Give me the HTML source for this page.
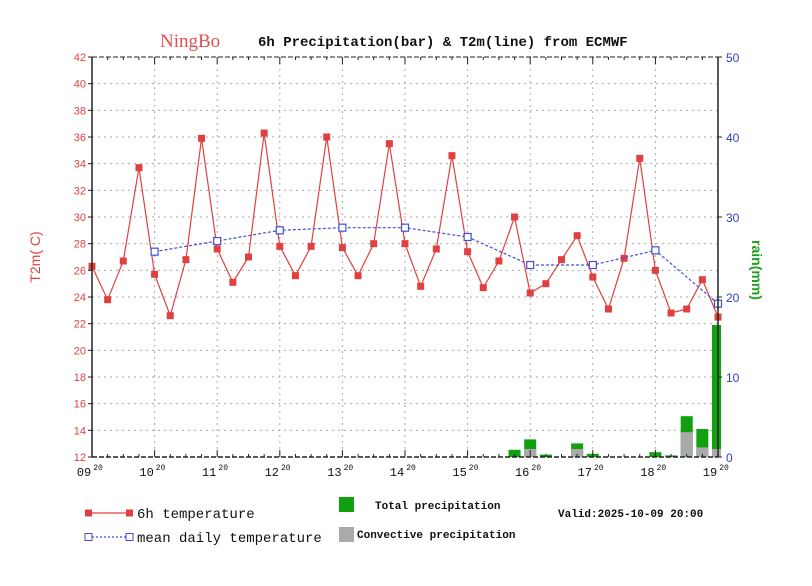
<!DOCTYPE html>
<html><head><meta charset="utf-8"><style>
html,body{margin:0;padding:0;background:#fff;}
svg{display:block;}
</style></head><body>
<svg id="chart" width="812" height="586" xmlns="http://www.w3.org/2000/svg" font-family="Liberation Mono, monospace">
<rect width="812" height="586" fill="#fff"/>
<text x="160" y="47" font-family="Liberation Serif, serif" font-size="19" fill="#e05050">NingBo</text>
<text x="258" y="46" font-size="14" font-weight="bold" fill="#111">6h Precipitation(bar) &amp; T2m(line) from ECMWF</text>
<g id="grid"></g>
<g id="bars"></g>
<g id="lines"></g>
<g id="axes"></g>
<text transform="translate(40,257) rotate(-90)" text-anchor="middle" font-family="Liberation Sans, sans-serif" font-size="14" fill="#e04040">T2m( C)</text>
<text transform="translate(752,270) rotate(90)" text-anchor="middle" font-family="Liberation Sans, sans-serif" font-size="14" font-weight="bold" fill="#20a020">rain(mm)</text>
<g>
<g>
<line x1="88" y1="513" x2="129" y2="513" stroke="#e04040" stroke-width="1.2"/>
<rect x="85" y="509.5" width="7" height="7" fill="#e04040"/><rect x="126" y="509.5" width="7" height="7" fill="#e04040"/>
<text x="137" y="518" font-size="14" fill="#111">6h temperature</text></g>
<g>
<line x1="88" y1="537" x2="129" y2="537" stroke="#4050d0" stroke-width="1.2" stroke-dasharray="2,2"/>
<rect x="85" y="533.5" width="7" height="7" fill="#fff" stroke="#4050d0"/><rect x="126" y="533.5" width="7" height="7" fill="#fff" stroke="#4050d0"/>
<text x="137" y="542" font-size="14" fill="#111">mean daily temperature</text></g>
<g>
<rect x="339" y="497" width="15" height="15" fill="#10a010"/>
<text x="375" y="509" font-size="11" font-weight="bold" fill="#111">Total precipitation</text></g>
<g>
<rect x="339" y="527" width="15" height="15" fill="#aaa"/>
<text x="357" y="538" font-size="11" font-weight="bold" fill="#111">Convective precipitation</text></g>
<text x="558" y="517" font-size="11" font-weight="bold" fill="#111">Valid:2025-10-09 20:00</text>
</g>
</svg>
<script>
const temps=[26.3,23.8,26.7,33.7,25.7,22.6,26.8,35.9,27.6,25.1,27.0,36.3,27.8,25.6,27.8,36.0,27.7,25.6,28.0,35.5,28.0,24.8,27.6,34.6,27.4,24.7,26.7,30.0,24.3,25.0,26.8,28.6,25.5,23.1,26.9,34.4,26.0,22.8,23.1,25.3,22.5];
const meanTemps=[27.4,28.2,29.0,29.2,29.2,28.5,26.4,26.4,27.5,23.5];
const meanIdx=[4,8,12,16,20,24,28,32,36,40];
const precipIdx=[27,28,29,31,32,36,37,38,39,40];
const totalPrecip=[0.9,2.2,0.3,1.7,0.4,0.6,0.2,5.1,3.5,16.5];
const convPrecip=[0,1.0,0,1.0,0,0,0,3.1,1.2,1.0];
const dayLabels=["09","10","11","12","13","14","15","16","17","18","19"];
const leftTicks=[12,14,16,18,20,22,24,26,28,30,32,34,36,38,40,42];
const rightTicks=[0,10,20,30,40,50];

const X0=92,X1=718,Y0=457,Y1=57,N=40;
const xs=k=>X0+(X1-X0)*k/N;
const yT=v=>Y0-(v-12)*(Y0-Y1)/30;
const yR=v=>Y0-v*(Y0-Y1)/50;
const NS="http://www.w3.org/2000/svg";
function mk(tag,attrs,parent,txt){const e=document.createElementNS(NS,tag);for(const k in attrs)e.setAttribute(k,attrs[k]);if(txt!==undefined)e.textContent=txt;parent.appendChild(e);return e;}
const grid=document.getElementById('grid'),bars=document.getElementById('bars'),lines=document.getElementById('lines'),axes=document.getElementById('axes');

leftTicks.forEach(v=>{
  if(v>12&&v<42){const g=mk('line',{x1:X0,x2:X1,y1:yT(v),y2:yT(v),stroke:'#aaa','stroke-width':1,'stroke-dasharray':'2,4'},grid);
  
  }
  const t=mk('text',{x:X0-6,y:yT(v)+4,'text-anchor':'end','font-family':'Liberation Sans, sans-serif','font-size':11,fill:'#e04040'},axes,String(v));
  
  
  mk('line',{x1:X0-4,x2:X0,y1:yT(v),y2:yT(v),stroke:'#222'},axes);
});
rightTicks.forEach(v=>{
  const t=mk('text',{x:X1+8,y:yR(v)+5,'font-family':'Liberation Sans, sans-serif','font-size':12,fill:'#3040c0'},axes,String(v));
  
  
  mk('line',{x1:X1,x2:X1+4,y1:yR(v),y2:yR(v),stroke:'#222'},axes);
});
dayLabels.forEach((d,i)=>{
  const x=xs(i*4);
  if(i>0&&i<10){const g=mk('line',{x1:x,x2:x,y1:Y1,y2:Y0,stroke:'#aaa','stroke-width':1,'stroke-dasharray':'2,4'},grid);
  
  }
  const t=mk('text',{x:x-8,y:Y0+19,'text-anchor':'middle','font-size':12,fill:'#111'},axes,d);
  
  
  mk('text',{x:x+6,y:Y0+13,'text-anchor':'middle','font-size':8,fill:'#111'},axes,'20');
  mk('line',{x1:x,x2:x,y1:Y0,y2:Y0-7,stroke:'#222'},axes);mk('line',{x1:x,x2:x,y1:Y1,y2:Y1+7,stroke:'#222'},axes);
});
for(let k=0;k<=N;k++){if(k%4){mk('line',{x1:xs(k),x2:xs(k),y1:Y0,y2:Y0-3,stroke:'#222'},axes);mk('line',{x1:xs(k),x2:xs(k),y1:Y1,y2:Y1+3,stroke:'#222'},axes);}}
mk('line',{x1:X0,x2:X1,y1:Y0,y2:Y0,stroke:'#222','stroke-width':1.5,'stroke-dasharray':'5,2'},axes);
mk('line',{x1:X0,x2:X1,y1:Y1,y2:Y1,stroke:'#222','stroke-width':1,'stroke-dasharray':'5,2'},axes);
mk('line',{x1:X0,x2:X0,y1:Y1,y2:Y0,stroke:'#222','stroke-width':1.5},axes);
mk('line',{x1:X1,x2:X1,y1:Y1,y2:Y0,stroke:'#222','stroke-width':1.5},axes);

precipIdx.forEach((k,i)=>{
  const x=xs(k),w=12;
  let x0=x-w/2,ww=w;if(x0+ww>X1+3){ww=X1+3-x0;}
  const b=mk('rect',{x:x0,y:yR(totalPrecip[i]),width:ww,height:Y0-yR(totalPrecip[i]),fill:'#10a010'},bars);
  
  
  if(convPrecip[i]>0){const c=mk('rect',{x:x0,y:yR(convPrecip[i]),width:ww,height:Y0-yR(convPrecip[i]),fill:'#aaa'},bars);
  
  }
});

const tl=mk('polyline',{points:temps.map((v,k)=>xs(k)+','+yT(v)).join(' '),fill:'none',stroke:'#e04040','stroke-width':1.2},lines);


temps.forEach((v,k)=>{const p=mk('rect',{x:xs(k)-3.5,y:yT(v)-3.5,width:7,height:7,fill:'#e04040'},lines);

});
const ml=mk('polyline',{points:meanTemps.map((v,i)=>xs(meanIdx[i])+','+yT(v)).join(' '),fill:'none',stroke:'#4050d0','stroke-width':1.2,'stroke-dasharray':'3,2'},lines);


meanTemps.forEach((v,i)=>{const p=mk('rect',{x:xs(meanIdx[i])-3.5,y:yT(v)-3.5,width:7,height:7,fill:'#fff',stroke:'#4050d0','stroke-width':1.2},lines);

});
</script>
</body></html>
